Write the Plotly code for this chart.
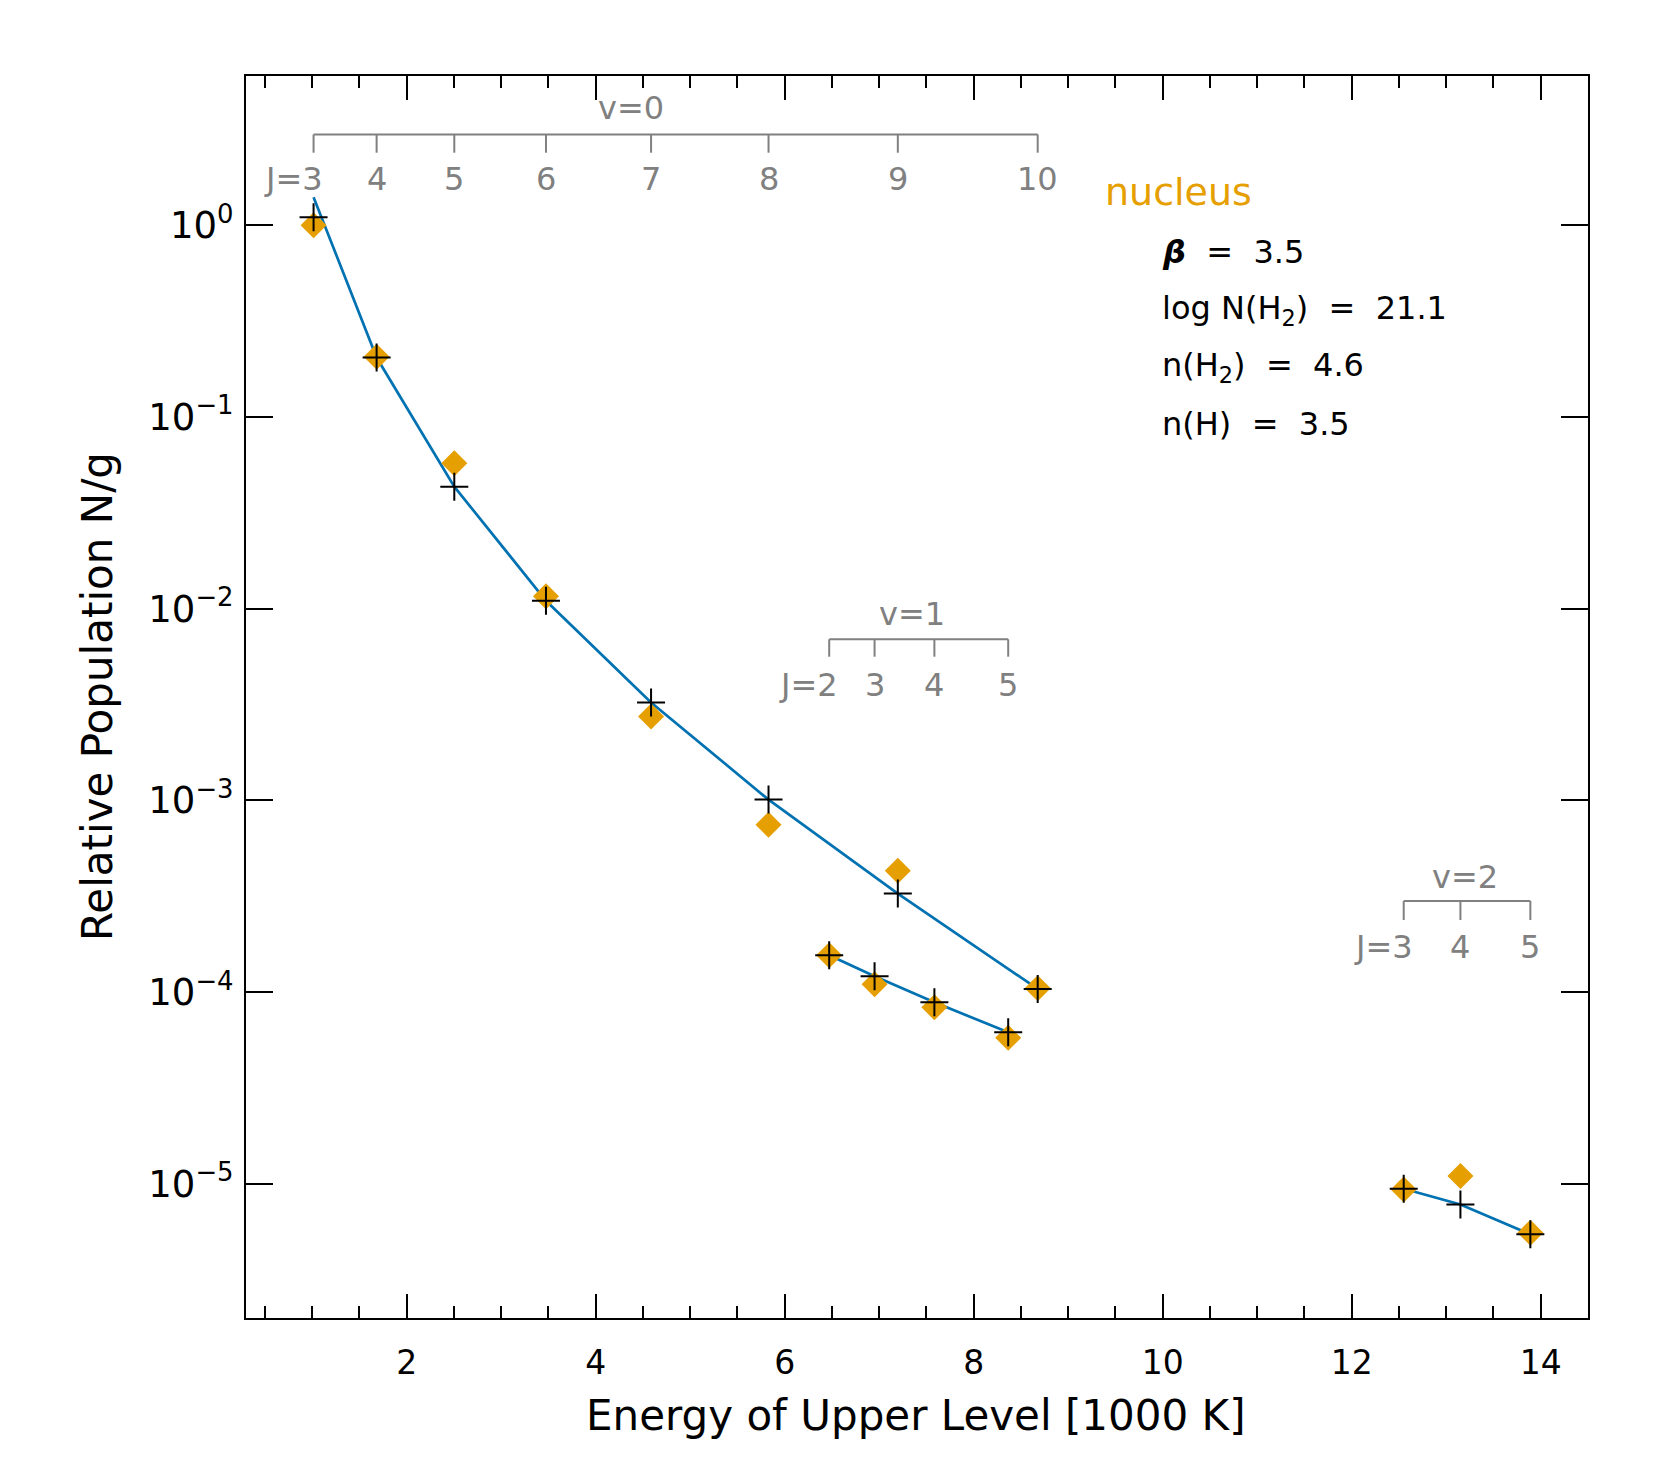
import plotly.graph_objects as go

# H2 level energies [1000 K] and populations N/g
v0_J = [3, 4, 5, 6, 7, 8, 9, 10]
v0_E = [1.015, 1.682, 2.504, 3.474, 4.586, 5.829, 7.197, 8.677]
v0_obs = [1.00, 0.206, 0.0573, 0.0116, 0.00274, 0.000747, 0.000430, 0.000105]
v0_mod = [1.10, 0.204, 0.0433, 0.0110, 0.00324, 0.00101, 0.000327, 0.000104]
v0_line = [1.40, 0.204, 0.0433, 0.0110, 0.00324, 0.00101, 0.000327, 0.000104]

v1_J = [2, 3, 4, 5]
v1_E = [6.471, 6.951, 7.584, 8.365]
v1_obs = [1.56e-4, 1.10e-4, 8.34e-5, 5.78e-5]
v1_mod = [1.56e-4, 1.21e-4, 8.86e-5, 6.18e-5]

v2_J = [3, 4, 5]
v2_E = [12.55, 13.15, 13.89]
v2_obs = [9.36e-6, 1.10e-5, 5.57e-6]
v2_mod = [9.44e-6, 7.82e-6, 5.46e-6]

y_tickvals = [1, 1e-1, 1e-2, 1e-3, 1e-4, 1e-5]
y_ticktext = ["10<sup>0</sup>", "10<sup>\u22121</sup>", "10<sup>\u22122</sup>",
              "10<sup>\u22123</sup>", "10<sup>\u22124</sup>", "10<sup>\u22125</sup>"]

params = [
    "<b><i>\u03b2</i></b> \u00a0= \u00a03.5",
    "log N(H<sub>2</sub>) \u00a0= \u00a021.1",
    "n(H<sub>2</sub>) \u00a0= \u00a04.6",
    "n(H) \u00a0= \u00a03.5",
]

FONT = "DejaVu Sans"
ORANGE = "#E69F00"
BLUE = "#0072B2"
GRAY = "#808080"

# page is offset by the 8 px body margin
OFF = 8
W, H = 1661 - 2 * OFF, 1475 - 2 * OFF
# plot box in page pixels: left 246, right 1588, top 76, bottom 1318
L, R, T, B = 246 - OFF, 1661 - 1588 - OFF, 76 - OFF, 1475 - 1318 - OFF


def py(pix):
    # page pixel row -> paper y
    return (1318 - pix) / (1318 - 76)


def px(pix):
    return (pix - 246) / (1588 - 246)


fig = go.Figure()

for E, line in [(v0_E, v0_line), (v1_E, v1_mod), (v2_E, v2_mod)]:
    fig.add_trace(go.Scatter(x=E, y=line, mode="lines",
                             line=dict(color=BLUE, width=2.7), showlegend=False))

for E, obs in [(v0_E, v0_obs), (v1_E, v1_obs), (v2_E, v2_obs)]:
    fig.add_trace(go.Scatter(x=E, y=obs, mode="markers", showlegend=False,
                             marker=dict(symbol="diamond", size=20, color=ORANGE,
                                         line=dict(width=0))))

for E, mod in [(v0_E, v0_mod), (v1_E, v1_mod), (v2_E, v2_mod)]:
    fig.add_trace(go.Scatter(x=E, y=mod, mode="markers", showlegend=False,
                             marker=dict(symbol="cross-thin", size=20, color="black",
                                         line=dict(width=2, color="black"))))

# level brackets (v, J, E, bracket row, tick bottom, J label row, v label row)
brackets = [
    (0, v0_J, v0_E, 134.5, 152.7, 179, 108),
    (1, v1_J, v1_E, 639.3, 656.7, 685, 614),
    (2, v2_J, v2_E, 901, 920, 947, 877),
]
shapes = []
annotations = []
gfont = dict(family=FONT, size=32, color=GRAY)
for v, Js, Es, yb, yt, yj, yv in brackets:
    shapes.append(dict(type="line", xref="x", yref="paper", x0=Es[0], x1=Es[-1],
                       y0=py(yb), y1=py(yb), line=dict(color=GRAY, width=2)))
    for i, (j, e) in enumerate(zip(Js, Es)):
        shapes.append(dict(type="line", xref="x", yref="paper", x0=e, x1=e,
                           y0=py(yb), y1=py(yt), line=dict(color=GRAY, width=2)))
        if i == 0:
            annotations.append(dict(x=e, y=py(yj), xref="x", yref="paper",
                                    text=f"J={j}", showarrow=False, xanchor="right",
                                    xshift=11, yanchor="middle", font=gfont))
        else:
            annotations.append(dict(x=e, y=py(yj), xref="x", yref="paper",
                                    text=str(j), showarrow=False, xanchor="center",
                                    yanchor="middle", font=gfont))
    annotations.append(dict(x=sum(Es) / len(Es), y=py(yv), xref="x", yref="paper",
                            text=f"v={v}", showarrow=False, xanchor="center",
                            yanchor="middle", font=gfont))

annotations.append(dict(x=px(1103), y=py(192), xref="paper", yref="paper",
                        text="nucleus", showarrow=False, xanchor="left",
                        yanchor="middle", font=dict(family=FONT, size=38, color=ORANGE)))
for txt, row in zip(params, [252, 310, 367, 424]):
    annotations.append(dict(x=px(1160), y=py(row), xref="paper", yref="paper",
                            text=txt, showarrow=False, xanchor="left",
                            yanchor="middle", font=dict(family=FONT, size=32, color="black")))

annotations.append(dict(x=px(916), y=py(1416), xref="paper", yref="paper",
                        text="Energy of Upper Level [1000 K]", showarrow=False,
                        xanchor="center", yanchor="middle",
                        font=dict(family=FONT, size=42, color="black")))
annotations.append(dict(x=px(97), y=0.5, xref="paper", yref="paper",
                        text="Relative Population N/g", showarrow=False, textangle=-90,
                        xanchor="center", yanchor="middle",
                        font=dict(family=FONT, size=42, color="black")))

fig.update_layout(
    width=W, height=H,
    margin=dict(l=L, r=R, t=T, b=B),
    paper_bgcolor="white", plot_bgcolor="white",
    font=dict(family=FONT, size=34, color="black"),
    shapes=shapes, annotations=annotations,
    xaxis=dict(range=[0.3, 14.5], tickvals=[2, 4, 6, 8, 10, 12, 14],
               ticks="inside", ticklen=24, tickwidth=2, tickcolor="black",
               showline=True, linewidth=2, linecolor="black", mirror="ticks",
               showgrid=False, zeroline=False, ticklabelstandoff=14,
               tickfont=dict(family=FONT, size=33),
               minor=dict(dtick=0.5, tick0=0, ticks="inside", ticklen=12,
                          tickwidth=2, tickcolor="black", showgrid=False)),
    yaxis=dict(type="log", range=[-5.699, 0.778], tickvals=y_tickvals,
               ticktext=y_ticktext, ticks="inside", ticklen=27, tickwidth=2,
               tickcolor="black", showline=True, linewidth=2, linecolor="black",
               mirror="ticks", showgrid=False, zeroline=False,
               ticklabelstandoff=3, tickfont=dict(family=FONT, size=37)),
)

fig.write_html("out.html")
